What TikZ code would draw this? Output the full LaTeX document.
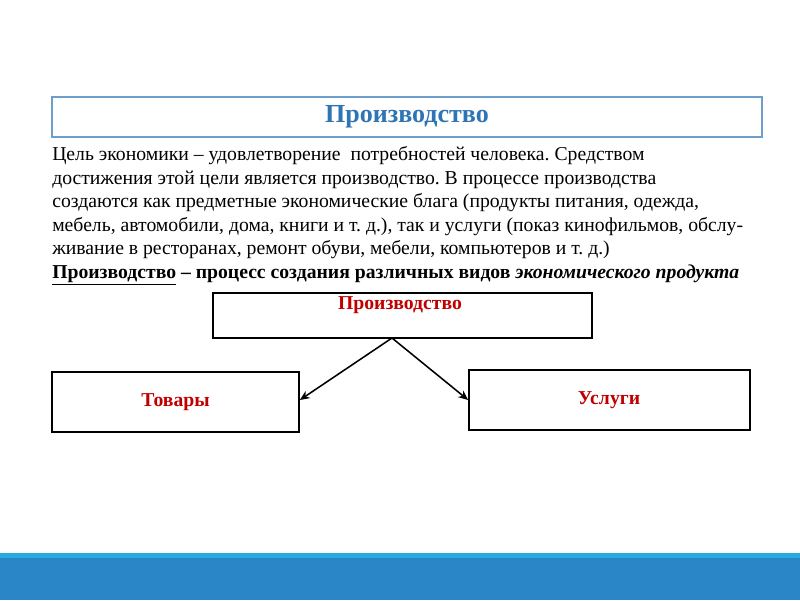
\documentclass[tikz,border=0pt]{standalone}
\usepackage{fontspec}
\setmainfont{Liberation Serif}
\usetikzlibrary{arrows.meta,positioning}
\definecolor{titleblue}{HTML}{2E75B6}
\definecolor{boxred}{HTML}{C00000}
\definecolor{barblue}{HTML}{2B86C8}
\definecolor{barlight}{HTML}{29AAE1}
\frenchspacing
\begin{document}
\begin{tikzpicture}[
    x=0.025cm, y=-0.025cm,
    block/.style={rectangle, draw, line width=1.2pt, inner sep=0pt},
    tag/.style={font=\bfseries\fontsize{14}{16}\selectfont, text=boxred},
    link/.style={-{Stealth[length=7pt,width=6pt]}, line width=1.1pt}
]
\useasboundingbox (0,0) rectangle (800,600);

% bottom bar
\fill[barblue] (0,556) rectangle (800,600);
\fill[barlight] (0,553) rectangle (800,558);

% title
\node[draw=titleblue!70, line width=0.8pt, minimum width=710*0.025cm, minimum height=40*0.025cm,
      font=\bfseries\fontsize{18.5}{20}\selectfont, text=titleblue] (title) at (407,117) {Производство};

% body text
\node[anchor=north west, align=left, inner sep=0pt, font=\fontsize{14}{16.8}\selectfont] (body) at (52,146)
{Цель экономики – удовлетворение\ \ потребностей человека. Средством\\
достижения этой цели является производство. В процессе производства\\
создаются как предметные экономические блага (продукты питания, одежда,\\
мебель, автомобили, дома, книги и т. д.), так и услуги (показ кинофильмов, обслу-\\
живание в ресторанах, ремонт обуви, мебели, компьютеров и т. д.)\\
\textbf{\underline{Производство} – процесс создания различных видов \textit{экономического продукта}}};

% diagram
\node[block, minimum width=379*0.025cm, minimum height=45*0.025cm] (prod) at (402.5,315.5) {};
\node[tag] (prodtext) at (400,305) {Производство};
\node[block, minimum width=247*0.025cm, minimum height=60*0.025cm, tag] (goods) at (175.5,402) {Товары};
\node[block, minimum width=281*0.025cm, minimum height=60*0.025cm] (serv) at (609.5,400) {};
\node[tag] (servtext) at (609,400) {Услуги};
\coordinate (apex) at (392,338);

\draw[link] (apex) -- (goods.east |- 0,400);
\draw[link] (apex) -- (serv.west);

\end{tikzpicture}
\end{document}
